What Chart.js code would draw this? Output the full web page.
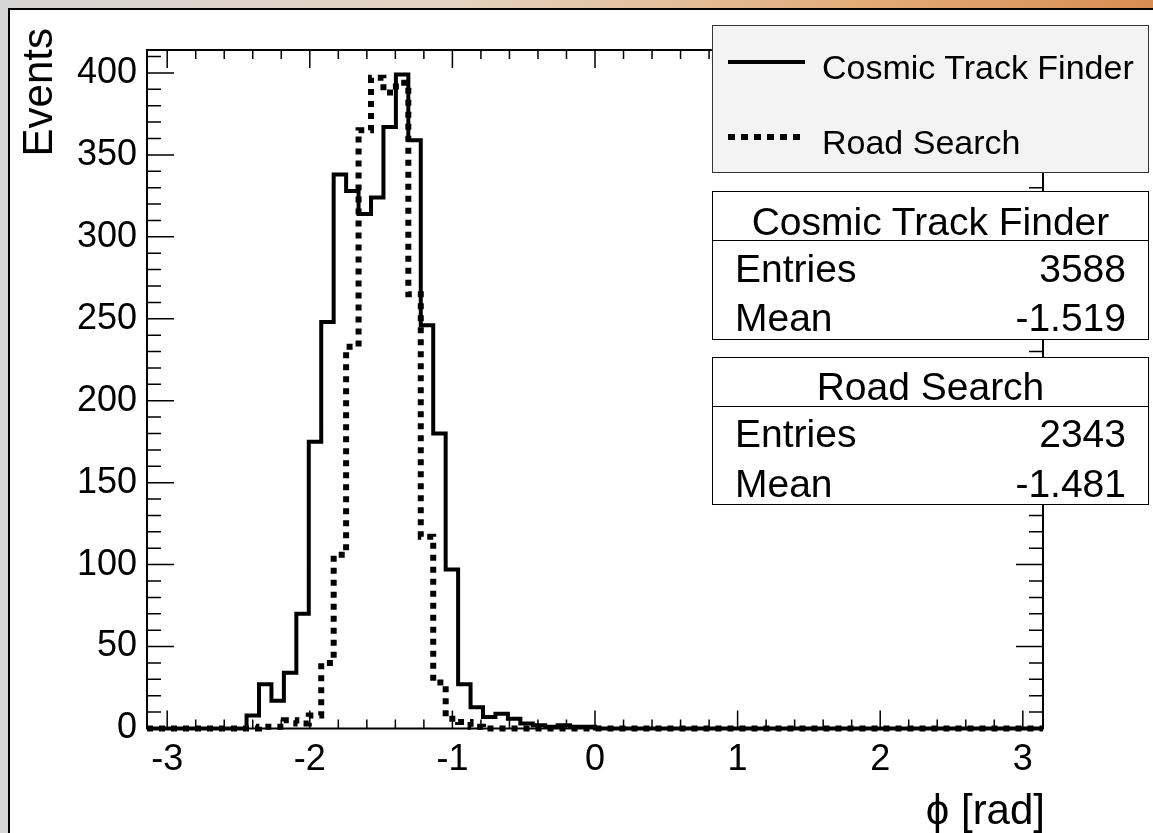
<!DOCTYPE html>
<html>
<head>
<meta charset="utf-8">
<script src="https://cdn.jsdelivr.net/npm/chart.js@4.4.0/dist/chart.umd.min.js"></script>
<style>
  html, body { margin: 0; padding: 0; }
  body {
    width: 1153px; height: 833px; overflow: hidden; position: relative;
    background: linear-gradient(to right, #d6d6d6 0%, #e4d2bf 40%, #e2ac78 75%, #d88d52 100%);
    font-family: "Liberation Sans", Arial, Helvetica, sans-serif; color: #000;
  }
  #pad {
    position: absolute; left: 8px; top: 8px; width: 1170px; height: 850px;
    background: #fff; border-left: 2px solid #000; border-top: 2px solid #000;
  }
  #plot { position: absolute; left: 0; top: 0; z-index: 1; }
  .txt { position: absolute; white-space: nowrap; z-index: 3; }
  .box { position: absolute; left: 712px; width: 437px; box-sizing: border-box; z-index: 2; }
  #legend { top: 25px; height: 148px; background: #f3f3f3; border: 1px solid #333; }
  .stats { background: #fff; border: 1.5px solid #000; }
  .stats .sep { position: absolute; left: 0; right: 0; border-top: 1.5px solid #000; }
  .sample { position: absolute; left: 728px; width: 77px; z-index: 3; }
</style>
</head>
<body>
<div id="pad"></div>
<canvas id="plot" width="1153" height="833"></canvas>

<div class="txt" id="ytitle" style="left:-62px; top:103px; width:200px; height:50px; line-height:50px; font-size:42px; text-align:right; transform:rotate(-90deg);">Events</div>
<div class="txt" style="left:745px; top:785px; width:300px; height:50px; line-height:50px; font-size:42px; text-align:right;">&#981; [rad]</div>

<div class="box" id="legend"></div>
<div class="sample" style="top:60px; height:4px; background:#000;"></div>
<div class="sample" style="top:134px; height:6px; background:repeating-linear-gradient(to right, #000 0 7px, transparent 7px 13px);"></div>
<div class="txt" style="left:822px; top:47px; height:40px; line-height:40px; font-size:34px;">Cosmic Track Finder</div>
<div class="txt" style="left:822px; top:122px; height:40px; line-height:40px; font-size:34px;">Road Search</div>

<div class="box stats" style="top:191px; height:149px;"><div class="sep" style="top:48px;"></div></div>
<div class="txt" style="left:712px; width:437px; text-align:center; top:200px; height:44px; line-height:44px; font-size:39px;">Cosmic Track Finder</div>
<div class="txt" style="left:735px; top:247px; height:44px; line-height:44px; font-size:39px;">Entries</div>
<div class="txt" style="left:826px; width:300px; text-align:right; top:247px; height:44px; line-height:44px; font-size:39px;">3588</div>
<div class="txt" style="left:735px; top:296px; height:44px; line-height:44px; font-size:39px;">Mean</div>
<div class="txt" style="left:826px; width:300px; text-align:right; top:296px; height:44px; line-height:44px; font-size:39px;">-1.519</div>

<div class="box stats" style="top:357px; height:148px;"><div class="sep" style="top:48px;"></div></div>
<div class="txt" style="left:712px; width:437px; text-align:center; top:365px; height:44px; line-height:44px; font-size:39px;">Road Search</div>
<div class="txt" style="left:735px; top:412px; height:44px; line-height:44px; font-size:39px;">Entries</div>
<div class="txt" style="left:826px; width:300px; text-align:right; top:412px; height:44px; line-height:44px; font-size:39px;">2343</div>
<div class="txt" style="left:735px; top:462px; height:44px; line-height:44px; font-size:39px;">Mean</div>
<div class="txt" style="left:826px; width:300px; text-align:right; top:462px; height:44px; line-height:44px; font-size:39px;">-1.481</div>

<script>
// 72 bins of 5 degrees over [-pi, pi]
const phiMin = -Math.PI;
const phiMax = Math.PI;
const nBins = 72;

// Cosmic Track Finder, bin contents
const ctfCounts = [
  0, 0, 0, 0, 0, 0, 0, 0, 8, 27, 17, 34, 70, 175, 248, 338,
  328, 314, 324, 367, 399, 359, 246, 180, 97, 27, 13, 7, 9, 6, 3, 2,
  1, 2, 1, 1, 0, 0, 0, 0, 0, 0, 0, 0, 0, 0, 0, 0,
  0, 0, 0, 0, 0, 0, 0, 0, 0, 0, 0, 0, 0, 0, 0, 0,
  0, 0, 0, 0, 0, 0, 0, 0
];

// Road Search, bin contents
const rsCounts = [
  0, 0, 0, 0, 0, 0, 0, 0, 0, 1, 1, 5, 3, 8, 40, 106,
  233, 365, 397, 388, 394, 265, 117, 28, 6, 4, 1, 0, 0, 0, 0, 0,
  0, 0, 0, 0, 0, 0, 0, 0, 0, 0, 0, 0, 0, 0, 0, 0,
  0, 0, 0, 0, 0, 0, 0, 0, 0, 0, 0, 0, 0, 0, 0, 0,
  0, 0, 0, 0, 0, 0, 0, 0
];

const xTicks = [-3, -2, -1, 0, 1, 2, 3];
const yTicks = [0, 50, 100, 150, 200, 250, 300, 350, 400];
const yMax = 414;

// step outline: one point per left bin edge, plus the last right edge
function histPoints(counts) {
  const w = (phiMax - phiMin) / nBins;
  const pts = counts.map((c, i) => ({ x: phiMin + i * w, y: c }));
  pts.push({ x: phiMax, y: counts[counts.length - 1] });
  return pts;
}

// ROOT style frame with inward ticks on all four sides
const frameTicks = {
  id: 'frameTicks',
  afterDatasetsDraw(chart) {
    const { ctx, chartArea: a, scales: { x, y } } = chart;
    ctx.save();
    ctx.strokeStyle = '#000';
    ctx.lineWidth = 1.5;
    ctx.beginPath();
    for (let i = -15; i <= 15; i++) {
      const v = i / 5;
      if (v < phiMin || v > phiMax) continue;
      const px = x.getPixelForValue(v);
      const len = i % 5 === 0 ? 18 : 9;
      ctx.moveTo(px, a.bottom); ctx.lineTo(px, a.bottom - len);
      ctx.moveTo(px, a.top); ctx.lineTo(px, a.top + len);
    }
    for (let i = 0; i * 10 <= yMax; i++) {
      const py = y.getPixelForValue(i * 10);
      const len = i % 5 === 0 ? 27 : 14;
      ctx.moveTo(a.left, py); ctx.lineTo(a.left + len, py);
      ctx.moveTo(a.right, py); ctx.lineTo(a.right - len, py);
    }
    ctx.stroke();
    ctx.lineWidth = 2;
    ctx.strokeRect(a.left, a.top, a.right - a.left, a.bottom - a.top);
    ctx.restore();
  }
};

const ctx = document.getElementById('plot').getContext('2d');
new Chart(ctx, {
  type: 'line',
  data: {
    datasets: [
      {
        label: 'Cosmic Track Finder',
        data: histPoints(ctfCounts),
        stepped: 'before',
        borderColor: '#000',
        borderWidth: 4,
        pointRadius: 0,
        fill: false,
        clip: 6,
        order: 2
      },
      {
        label: 'Road Search',
        data: histPoints(rsCounts),
        stepped: 'before',
        borderColor: '#000',
        borderWidth: 6,
        borderDash: [6, 6],
        borderCapStyle: 'butt',
        pointRadius: 0,
        fill: false,
        clip: 6,
        order: 1
      }
    ]
  },
  options: {
    responsive: false,
    animation: false,
    events: [],
    layout: { padding: { left: 0, top: 50, right: 110, bottom: 0 } },
    plugins: { legend: { display: false }, tooltip: { enabled: false } },
    scales: {
      x: {
        type: 'linear',
        min: phiMin,
        max: phiMax,
        afterBuildTicks: (s) => { s.ticks = xTicks.map(v => ({ value: v })); },
        afterFit: (s) => { s.height = 104.5; },
        grid: { display: false, drawTicks: false },
        border: { display: false },
        ticks: {
          color: '#000',
          padding: 10,
          maxRotation: 0,
          font: { family: 'Liberation Sans', size: 36 },
          callback: (v) => String(v)
        }
      },
      y: {
        type: 'linear',
        min: 0,
        max: yMax,
        afterBuildTicks: (s) => { s.ticks = yTicks.map(v => ({ value: v })); },
        afterFit: (s) => { s.width = 147; },
        grid: { display: false, drawTicks: false },
        border: { display: false },
        ticks: {
          color: '#000',
          padding: 10,
          font: { family: 'Liberation Sans', size: 36 },
          callback: (v) => String(v)
        }
      }
    }
  },
  plugins: [frameTicks]
});
</script>
</body>
</html>
